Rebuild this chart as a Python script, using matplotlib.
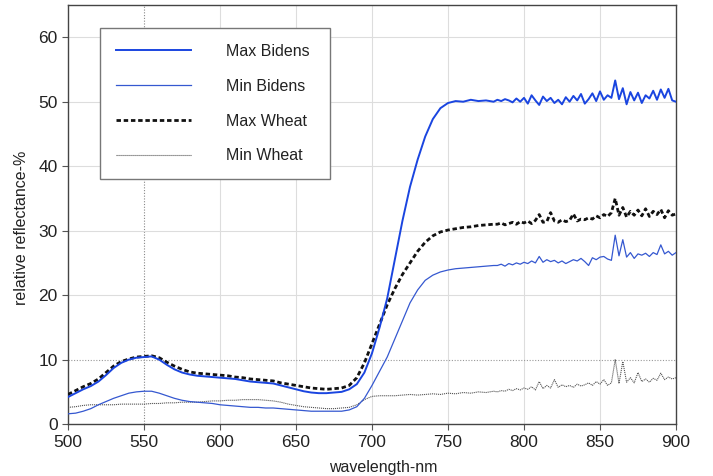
import numpy as np
import matplotlib
matplotlib.use("Agg")
import matplotlib.pyplot as plt

# wavelength grid (nm): 5 nm steps to 780, then 2.5 nm steps to 900
wl_a = np.arange(500, 781, 5)
wl_b = np.arange(782.5, 900.1, 2.5)
wavelength = np.concatenate([wl_a, wl_b])

max_bidens = [
    4.2, 4.8, 5.4, 5.9, 6.6, 7.6, 8.7, 9.5, 10.0, 10.3, 10.4, 10.5, 10.0, 9.2, 8.5, 8.0,
    7.7, 7.5, 7.4, 7.3, 7.2, 7.1, 7.0, 6.8, 6.6, 6.5, 6.4, 6.3, 6.0, 5.7, 5.4, 5.1,
    4.9, 4.8, 4.8, 4.9, 5.0, 5.4, 6.2, 8.0, 11.0, 15.0, 19.5, 25.5, 31.5, 36.8, 41.0, 44.6,
    47.3, 49.0, 49.8, 50.1, 50.0, 50.3, 50.1, 50.2, 50.0,
    50.3, 50.1, 50.4, 50.2, 49.9, 50.5, 50.0, 50.6, 49.7, 51.0, 50.2, 49.5,
    50.8, 50.1, 50.6, 49.8, 50.3, 49.6, 50.7, 50.0, 50.9, 50.2, 51.2, 49.7,
    50.4, 51.3, 50.1, 51.6, 50.3, 51.0, 50.6, 53.3, 50.4, 52.1, 49.6, 51.5,
    50.2, 51.4, 49.8, 51.0, 50.5, 51.7, 50.3, 51.9, 50.6, 52.0, 50.2, 50.0,
]

min_bidens = [
    1.6, 1.7, 2.0, 2.4, 3.0, 3.5, 4.0, 4.4, 4.8, 5.0, 5.1, 5.1, 4.8, 4.4, 4.0, 3.7,
    3.5, 3.4, 3.3, 3.2, 3.0, 2.9, 2.8, 2.7, 2.6, 2.6, 2.5, 2.5, 2.4, 2.3, 2.2, 2.1,
    2.0, 2.0, 2.0, 2.0, 2.0, 2.2, 2.7, 4.0, 6.0, 8.2, 10.4, 13.2, 16.0, 18.8, 20.8, 22.3,
    23.1, 23.6, 23.9, 24.1, 24.2, 24.3, 24.4, 24.5, 24.6,
    24.6, 24.8, 24.5, 24.9, 24.7, 25.0, 24.8, 25.1, 24.9, 25.3, 25.0, 26.0,
    25.1, 25.5, 25.2, 25.4, 25.0, 25.3, 24.9, 25.2, 25.5, 25.3, 25.7, 25.2,
    24.6, 25.8, 25.5, 25.9, 26.0, 25.6, 25.4, 29.3, 26.1, 28.6, 25.9, 26.6,
    25.7, 26.4, 26.2, 26.5, 26.0, 26.6, 26.3, 27.8, 26.4, 26.8, 26.2, 26.6,
]

max_wheat = [
    4.6, 5.2, 5.8, 6.3, 7.0, 8.0, 9.0, 9.7, 10.1, 10.4, 10.5, 10.6, 10.3, 9.6, 9.0, 8.5,
    8.1, 7.9, 7.8, 7.7, 7.6, 7.5, 7.3, 7.2, 7.0, 6.9, 6.8, 6.7, 6.4, 6.2, 6.0, 5.8,
    5.6, 5.5, 5.4, 5.5, 5.6, 6.0, 7.2, 9.5, 12.5, 15.5, 18.5, 21.0, 23.2, 25.0, 26.8, 28.2,
    29.2, 29.8, 30.1, 30.3, 30.5, 30.6, 30.8, 30.9, 31.0,
    31.0, 31.2, 30.9, 31.1, 31.3, 31.0, 31.4, 31.2, 31.5, 31.1, 31.6, 32.5,
    31.3, 31.4, 32.8, 31.5, 31.3, 31.7, 31.4, 31.6, 32.6, 31.5, 31.8, 31.7,
    32.0, 31.8, 32.3, 32.0, 32.5, 32.2, 32.8, 35.0, 32.4, 33.6, 32.1, 33.0,
    32.4, 33.2, 32.3, 33.4, 32.2, 33.0, 32.5, 33.3, 32.0, 33.1, 32.4, 32.6,
]

min_wheat = [
    2.6, 2.7, 2.9, 3.0, 3.0, 3.0, 3.0, 3.1, 3.1, 3.1, 3.1, 3.2, 3.2, 3.3, 3.3, 3.4,
    3.4, 3.4, 3.5, 3.6, 3.6, 3.7, 3.7, 3.8, 3.8, 3.8, 3.7, 3.6, 3.4, 3.1, 2.9, 2.7,
    2.6, 2.5, 2.4, 2.4, 2.5, 2.6, 3.0, 3.8, 4.3, 4.4, 4.4, 4.4, 4.5, 4.6, 4.5, 4.6,
    4.7, 4.6, 4.8, 4.7, 4.9, 4.8, 5.0, 4.9, 5.1,
    5.0, 5.2, 5.1, 5.4, 5.2, 5.5, 5.3, 5.6, 5.4, 5.8, 5.3, 6.6,
    5.5, 6.0, 5.6, 6.9, 5.7, 6.1, 5.8, 6.0, 5.7, 6.2, 5.9, 6.1,
    6.4, 6.0, 6.6, 6.2, 6.9, 6.0, 6.4, 10.0, 6.3, 9.7, 6.5, 7.2,
    6.4, 8.0, 6.6, 7.0, 6.5, 7.1, 6.8, 7.9, 6.9, 7.3, 7.0, 7.2,
]

x_ticks = [500, 550, 600, 650, 700, 750, 800, 850, 900]
y_ticks = [0, 10, 20, 30, 40, 50, 60]
labels = ["Max Bidens", "Min Bidens", "Max Wheat", "Min Wheat"]

plt.rcParams['font.family'] = ['Liberation Sans', 'DejaVu Sans']

fig = plt.figure(figsize=(7.13, 4.76), dpi=100)
ax = fig.add_axes([0.0954, 0.109, 0.8527, 0.8805])

# grid
for xv in x_ticks[1:-1]:
    if xv == 550:
        ax.axvline(xv, color='#888888', lw=0.8, ls=(0, (1, 1.5)), zorder=0)
    else:
        ax.axvline(xv, color='#dddddd', lw=0.8, zorder=0)
for yv in y_ticks[1:]:
    if yv == 10:
        ax.axhline(yv, color='#999999', lw=0.8, ls=(0, (1, 1.5)), zorder=0)
    else:
        ax.axhline(yv, color='#dddddd', lw=0.8, zorder=0)

ax.plot(wavelength, min_wheat, color='#555555', lw=0.8, ls=(0, (1, 0.8)), label=labels[3], zorder=2)
ax.plot(wavelength, min_bidens, color='#3558d0', lw=0.9, label=labels[1], zorder=3)
ax.plot(wavelength, max_wheat, color='#111111', lw=2.0, ls=(0, (1.6, 1.0)), label=labels[2], zorder=4)
ax.plot(wavelength, max_bidens, color='#1a45e0', lw=1.4, label=labels[0], zorder=5)

ax.set_xlim(500, 900)
ax.set_ylim(0, 65)
ax.set_xticks(x_ticks)
ax.set_yticks(y_ticks)
ax.tick_params(direction='out', length=4, width=0.8, colors='#555555',
               labelcolor='#222222', labelsize=12.5)
for s in ax.spines.values():
    s.set_color('#444444')
    s.set_linewidth(1.0)

ax.set_xlabel("wavelength-nm", fontsize=11.5, color='#222222')
ax.set_ylabel("relative reflectance-%", fontsize=11.5, color='#222222')
ax.xaxis.set_label_coords(0.518, -0.085)
ax.yaxis.set_label_coords(-0.064, 0.468)

handles, labs = ax.get_legend_handles_labels()
order = [labs.index(l) for l in labels]
leg = ax.legend([handles[i] for i in order], [labs[i] for i in order],
                loc='upper left', bbox_to_anchor=(0.053, 0.578, 0.378, 0.368),
                mode='expand', fancybox=False, framealpha=1, edgecolor='#777777',
                fontsize=11.5, handlelength=4.7, handletextpad=2.2, labelspacing=1.25,
                borderpad=1.0, borderaxespad=0)
leg.get_frame().set_linewidth(1.0)
for t in leg.get_texts():
    t.set_color('#222222')

fig.savefig("out.png", dpi=100)
